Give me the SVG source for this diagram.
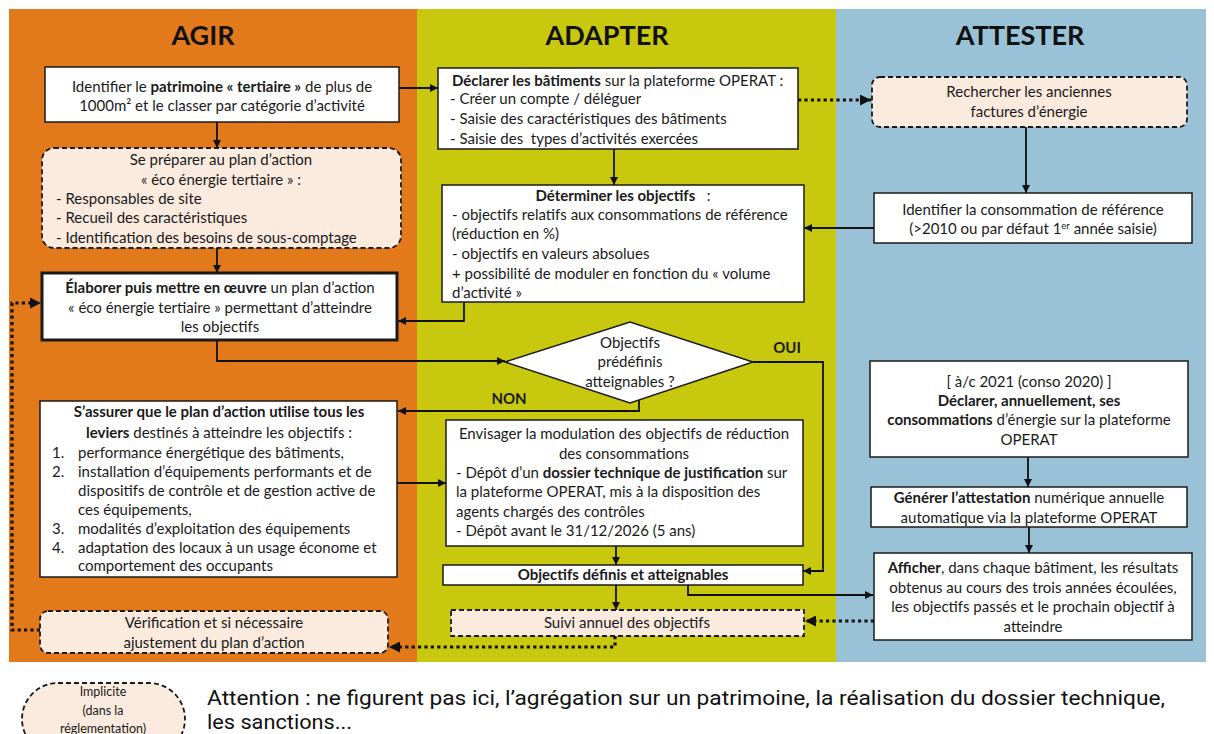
<svg xmlns="http://www.w3.org/2000/svg" width="1214" height="734" viewBox="0 0 1214 734">
<style>
.t{font-family:Lato,"Liberation Sans",sans-serif;font-size:15px;fill:#1a1a1a}
.c{text-anchor:middle}
.b{font-weight:bold}
.h{font-family:Lato,"Liberation Sans",sans-serif;font-size:27px;font-weight:bold;text-anchor:middle;fill:#111}
.box{fill:#fff;stroke:#1a1a1a;stroke-width:1.5}
.imp{fill:#FBEBDF;stroke:#1a1a1a;stroke-width:1.8;stroke-dasharray:5 3}
.ln{fill:none;stroke:#111;stroke-width:1.8}
.dl{fill:none;stroke:#111;stroke-width:3.2;stroke-dasharray:3.2 3.2}
.note{font-family:Roboto,"Liberation Sans",sans-serif;font-size:20px;fill:#111}
</style>
<defs>
<marker id="arr" viewBox="0 0 10 10" refX="10" refY="5" markerWidth="9" markerHeight="8" markerUnits="userSpaceOnUse" orient="auto"><path d="M0,0 L10,5 L0,10 z" fill="#111"/></marker>
<marker id="arrd" viewBox="0 0 10 10" refX="10" refY="5" markerWidth="12" markerHeight="11" markerUnits="userSpaceOnUse" orient="auto"><path d="M0,0 L10,5 L0,10 z" fill="#111"/></marker>
</defs>
<rect width="1214" height="734" fill="#fff"/>
<g id="panels">
<rect x="9" y="9" width="408" height="653" fill="#E2791B"/>
<rect x="417" y="9" width="419" height="653" fill="#C8C80E"/>
<rect x="836" y="9" width="370" height="653" fill="#9AC2D7"/>
<text class="h" x="203" y="45">AGIR</text>
<text class="h" x="607" y="45">ADAPTER</text>
<text class="h" x="1020" y="45">ATTESTER</text>
</g>
<g id="connectors">
<path class="ln" d="M399,88 H438" marker-end="url(#arr)"/>
<path class="ln" d="M217,122 V148" marker-end="url(#arr)"/>
<path class="ln" d="M217,248 V273" marker-end="url(#arr)"/>
<path class="ln" d="M464,302 V321 H398" marker-end="url(#arr)"/>
<path class="ln" d="M217,340 V361 H505" marker-end="url(#arr)"/>
<path class="ln" d="M753,362 H823 V571 H803" marker-end="url(#arr)"/>
<path class="ln" d="M639,399 V411 H398" marker-end="url(#arr)"/>
<path class="ln" d="M397,483 H446" marker-end="url(#arr)"/>
<path class="ln" d="M616,546 V565" marker-end="url(#arr)"/>
<path class="ln" d="M616,585 V610" marker-end="url(#arr)"/>
<path class="ln" d="M688,585 V595 H873" marker-end="url(#arr)"/>
<path class="ln" d="M614,149 V185" marker-end="url(#arr)"/>
<path class="ln" d="M1026,127 V193" marker-end="url(#arr)"/>
<path class="ln" d="M874,228 H804" marker-end="url(#arr)"/>
<path class="ln" d="M1028,457 V487" marker-end="url(#arr)"/>
<path class="ln" d="M1029,527 V553" marker-end="url(#arr)"/>
<path class="dl" d="M798,100 H871" marker-end="url(#arrd)"/>
<path class="dl" d="M874,621 H805" marker-end="url(#arrd)"/>
<path class="dl" d="M615,636 V647 H389" marker-end="url(#arrd)"/>
<path class="dl" d="M40,630 H12 V303 H41" marker-end="url(#arrd)"/>
<text class="t b c" x="787" y="353">OUI</text>
<text class="t b c" x="509" y="404">NON</text>
</g>
<g id="a1">
<rect class="box" x="45" y="67" width="354" height="55"/>
<text class="t c" x="222" y="92">Identifier le <tspan class="b">patrimoine « tertiaire »</tspan> de plus de</text>
<text class="t c" x="222" y="111">1000m² et le classer par catégorie d’activité</text>
</g>
<g id="a2">
<rect class="imp" x="42" y="148" width="359" height="100" rx="12"/>
<text class="t c" x="221" y="165">Se préparer au plan d’action</text>
<text class="t c" x="221" y="185">« éco énergie tertiaire » :</text>
<text class="t" x="56" y="204">- Responsables de site</text>
<text class="t" x="56" y="223">- Recueil des caractéristiques</text>
<text class="t" x="56" y="243">- Identification des besoins de sous-comptage</text>
</g>
<g id="a3">
<rect class="box" x="42" y="273" width="355" height="67" style="stroke-width:3"/>
<text class="t c" x="220" y="293"><tspan class="b">Élaborer puis mettre en œuvre</tspan> un plan d’action</text>
<text class="t c" x="220" y="313">« éco énergie tertiaire » permettant d’atteindre</text>
<text class="t c" x="220" y="332">les objectifs</text>
</g>
<g id="a4">
<rect class="box" x="40" y="401" width="357" height="176"/>
<text class="t c b" x="219" y="417">S’assurer que le plan d’action utilise tous les</text>
<text class="t c" x="219" y="438"><tspan class="b">leviers</tspan> destinés à atteindre les objectifs :</text>
<text class="t" x="52" y="458">1.</text><text class="t" x="78" y="458">performance énergétique des bâtiments,</text>
<text class="t" x="52" y="477">2.</text><text class="t" x="78" y="477">installation d’équipements performants et de</text>
<text class="t" x="78" y="496">dispositifs de contrôle et de gestion active de</text>
<text class="t" x="78" y="515">ces équipements,</text>
<text class="t" x="52" y="534">3.</text><text class="t" x="78" y="534">modalités d’exploitation des équipements</text>
<text class="t" x="52" y="553">4.</text><text class="t" x="78" y="553">adaptation des locaux à un usage économe et</text>
<text class="t" x="78" y="571">comportement des occupants</text>
</g>
<g id="a5">
<rect class="imp" x="40" y="611" width="348" height="42" rx="8"/>
<text class="t c" x="214" y="628">Vérification et si nécessaire</text>
<text class="t c" x="214" y="648">ajustement du plan d’action</text>
</g>
<g id="m1">
<rect class="box" x="438" y="68" width="360" height="81"/>
<text class="t" x="452" y="86"><tspan class="b">Déclarer les bâtiments</tspan> sur la plateforme OPERAT :</text>
<text class="t" x="450" y="104">- Créer un compte / déléguer</text>
<text class="t" x="450" y="124">- Saisie des caractéristiques des bâtiments</text>
<text class="t" x="450" y="144" xml:space="preserve">- Saisie des  types d’activités exercées</text>
</g>
<g id="m2">
<rect class="box" x="442" y="185" width="362" height="117"/>
<text class="t c" x="623" y="201" xml:space="preserve"><tspan class="b">Déterminer les objectifs</tspan>   :</text>
<text class="t" x="452" y="220">- objectifs relatifs aux consommations de référence</text>
<text class="t" x="452" y="239">(réduction en %)</text>
<text class="t" x="452" y="259">- objectifs en valeurs absolues</text>
<text class="t" x="452" y="279">+ possibilité de moduler en fonction du « volume</text>
<text class="t" x="452" y="298">d’activité »</text>
</g>
<g id="diamond">
<path d="M505,362 L630,322 L753,362 L630,403 Z" fill="#fff" stroke="#1a1a1a" stroke-width="1.5"/>
<text class="t c" x="630" y="348">Objectifs</text>
<text class="t c" x="630" y="367">prédéfinis</text>
<text class="t c" x="630" y="387">atteignables ?</text>
</g>
<g id="m3">
<rect class="box" x="446" y="420" width="357" height="126"/>
<text class="t c" x="624" y="439">Envisager la modulation des objectifs de réduction</text>
<text class="t c" x="624" y="459">des consommations</text>
<text class="t" x="456" y="478">- Dépôt d’un <tspan class="b">dossier technique de justification</tspan> sur</text>
<text class="t" x="456" y="497">la plateforme OPERAT, mis à la disposition des</text>
<text class="t" x="456" y="517">agents chargés des contrôles</text>
<text class="t" x="456" y="536">- Dépôt avant le 31/12/2026 (5 ans)</text>
</g>
<g id="m4">
<rect class="box" x="443" y="565" width="360" height="20"/>
<text class="t c b" x="623" y="580">Objectifs définis et atteignables</text>
</g>
<g id="m5">
<rect class="imp" x="451" y="610" width="353" height="26"/>
<text class="t c" x="627" y="628">Suivi annuel des objectifs</text>
</g>
<g id="r1">
<rect class="imp" x="872" y="77" width="315" height="50" rx="8"/>
<text class="t c" x="1029" y="97">Rechercher les anciennes</text>
<text class="t c" x="1029" y="117">factures d’énergie</text>
</g>
<g id="r2">
<rect class="box" x="874" y="193" width="318" height="50"/>
<text class="t c" x="1033" y="215">Identifier la consommation de référence</text>
<text class="t c" x="1033" y="234">(&gt;2010 ou par défaut 1<tspan font-size="9.5" baseline-shift="super">er</tspan> année saisie)</text>
</g>
<g id="r3">
<rect class="box" x="870" y="361" width="318" height="96"/>
<text class="t c" x="1029" y="387">[ à/c 2021 (conso 2020) ]</text>
<text class="t c b" x="1029" y="406">Déclarer, annuellement, ses</text>
<text class="t c" x="1029" y="425"><tspan class="b">consommations</tspan> d’énergie sur la plateforme</text>
<text class="t c" x="1029" y="445">OPERAT</text>
</g>
<g id="r4">
<rect class="box" x="871" y="487" width="316" height="40"/>
<text class="t c" x="1029" y="503"><tspan class="b">Générer l’attestation</tspan> numérique annuelle</text>
<text class="t c" x="1029" y="523">automatique via la plateforme OPERAT</text>
</g>
<g id="r5">
<rect class="box" x="874" y="553" width="318" height="87"/>
<text class="t c" x="1033" y="573"><tspan class="b">Afficher</tspan>, dans chaque bâtiment, les résultats</text>
<text class="t c" x="1033" y="593">obtenus au cours des trois années écoulées,</text>
<text class="t c" x="1033" y="612">les objectifs passés et le prochain objectif à</text>
<text class="t c" x="1033" y="632">atteindre</text>
</g>
<g id="legend">
<rect class="imp" x="22" y="683" width="163" height="72" rx="36"/>
<text class="t c" x="103" y="696" style="font-size:12.5px">Implicite</text>
<text class="t c" x="103" y="715" style="font-size:12.5px">(dans la</text>
<text class="t c" x="103" y="733" style="font-size:12.5px">réglementation)</text>
<text class="note" x="207" y="705" textLength="958" lengthAdjust="spacingAndGlyphs">Attention : ne figurent pas ici, l’agrégation sur un patrimoine, la réalisation du dossier technique,</text>
<text class="note" x="207" y="729" textLength="145" lengthAdjust="spacingAndGlyphs">les sanctions...</text>
</g>
</svg>
